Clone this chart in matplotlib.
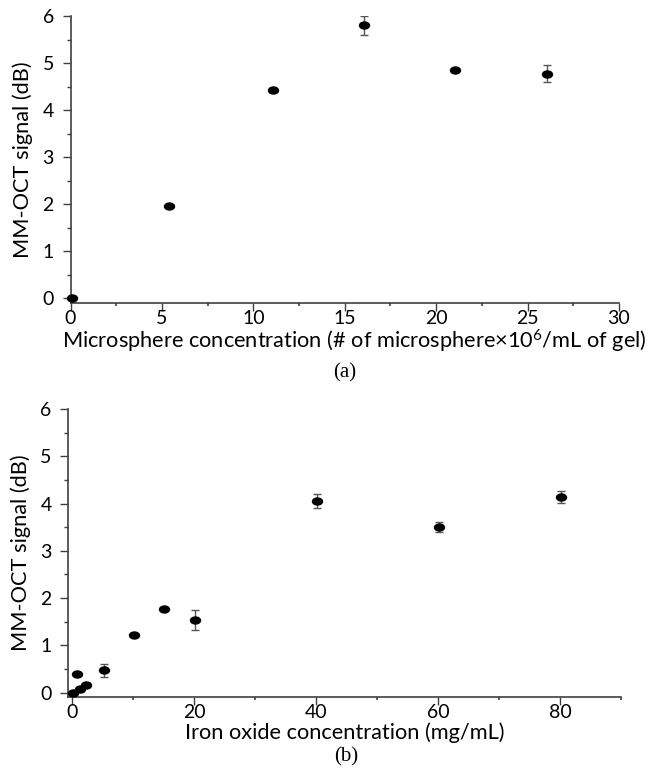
import numpy as np
import matplotlib
matplotlib.use("Agg")
import matplotlib.pyplot as plt
from matplotlib.path import Path
from matplotlib.transforms import Affine2D
from matplotlib.ticker import MultipleLocator

plt.rcParams['font.family'] = ['Lato', 'DejaVu Sans']
plt.rcParams['mathtext.fontset'] = 'custom'
plt.rcParams['mathtext.rm'] = 'Lato'
plt.rcParams['mathtext.it'] = 'Lato:italic'
plt.rcParams['mathtext.bf'] = 'Lato:bold'

# Panel (a): microsphere concentration
micro_x = [0.1, 5.4, 11.1, 16.05, 21.05, 26.05]
micro_y = [0.0, 1.97, 4.43, 5.80, 4.86, 4.77]
micro_err = [0.0, 0.0, 0.0, 0.21, 0.0, 0.18]

# Panel (b): iron oxide concentration
iron_x = [0.1, 0.7, 1.2, 2.2, 5.2, 10.2, 15.1, 20.2, 40.1, 60.1, 80.1]
iron_y = [0.0, 0.39, 0.07, 0.17, 0.47, 1.22, 1.77, 1.54, 4.05, 3.50, 4.14]
iron_err = [0.0, 0.0, 0.0, 0.0, 0.13, 0.0, 0.0, 0.21, 0.15, 0.11, 0.13]

ellipse = Path.unit_circle().transformed(Affine2D().scale(1.42, 1.0))

W, H = 652, 768
fig = plt.figure(figsize=(W / 100, H / 100), dpi=100)

spine_col = '#404040'
label_fs = 15.7
tick_fs = 14


def style(ax, xmaj, xmin):
    for s in ['top', 'right']:
        ax.spines[s].set_visible(False)
    for s in ['left', 'bottom']:
        ax.spines[s].set_color(spine_col)
        ax.spines[s].set_linewidth(1.2)
    ax.xaxis.set_major_locator(MultipleLocator(xmaj))
    ax.xaxis.set_minor_locator(MultipleLocator(xmin))
    ax.yaxis.set_major_locator(MultipleLocator(1))
    ax.yaxis.set_minor_locator(MultipleLocator(0.5))
    ax.tick_params(which='major', direction='out', length=6, width=1.0,
                   color=spine_col, labelsize=tick_fs)
    ax.tick_params(axis='y', which='major', pad=6)
    ax.tick_params(axis='x', which='major', pad=-1)
    ax.tick_params(axis='y', which='minor', direction='out', length=3,
                   width=1.0, color=spine_col)
    ax.tick_params(axis='x', which='minor', direction='out', length=2,
                   width=1.2, color=spine_col)
    ax.set_ylabel('MM-OCT signal (dB)', fontsize=label_fs, labelpad=7)


def draw(ax, xs, ys, es):
    ax.errorbar(xs, ys, yerr=es, fmt='none', ecolor='#555555',
                elinewidth=1.0, capsize=2.7, capthick=1.0, zorder=2)
    ax.plot(xs, ys, linestyle='none', marker=ellipse, markersize=7.2,
            color='black', zorder=3, clip_on=False)


ax1 = fig.add_axes([70.5 / W, 1 - 303 / H, (619 - 70.5) / W, (303 - 16) / H])
draw(ax1, micro_x, micro_y, micro_err)
ax1.set_xlim(0, 30)
ax1.set_ylim(-0.1, 6)
style(ax1, 5, 2.5)
ax1.set_xlabel('Microsphere concentration (# of microsphere\u00d710$^{6}$/mL of gel)',
               fontsize=label_fs, labelpad=1)
ax1.xaxis.set_label_coords(0.517, -0.085)

ax2 = fig.add_axes([68.3 / W, 1 - 697.3 / H, (621 - 68.3) / W, (697.3 - 409) / H])
draw(ax2, iron_x, iron_y, iron_err)
ax2.set_xlim(-0.65, 90)
ax2.set_ylim(-0.1, 6)
style(ax2, 20, 10)
ax2.set_xlabel('Iron oxide concentration (mg/mL)', fontsize=label_fs, labelpad=1)

fig.text(345 / W, 1 - 373 / H, '(a)', family='Liberation Serif', fontsize=15,
         ha='center', va='center')
fig.text(346 / W, 1 - 757 / H, '(b)', family='Liberation Serif', fontsize=15,
         ha='center', va='center')

fig.savefig('out.png', dpi=100)
